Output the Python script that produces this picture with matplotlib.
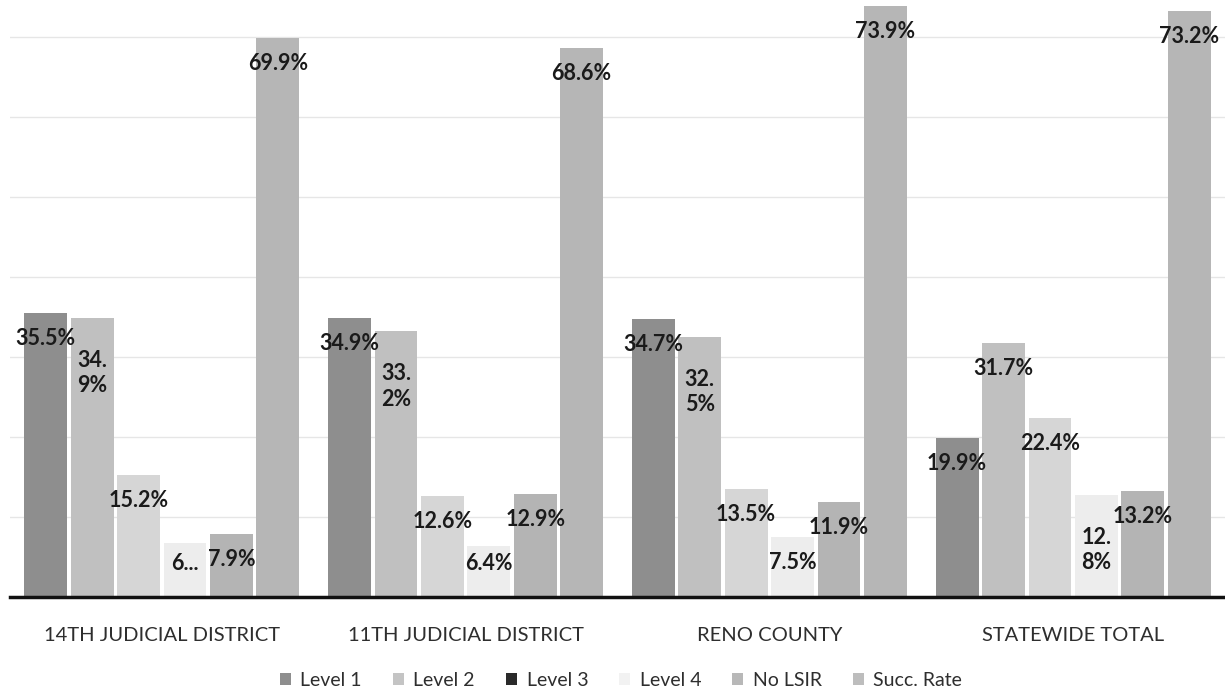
import numpy as np
import matplotlib.pyplot as plt
from matplotlib.patches import Patch

# Categories (x groups)
CATEGORIES = ["14TH JUDICIAL DISTRICT", "11TH JUDICIAL DISTRICT", "RENO COUNTY", "STATEWIDE TOTAL"]

# Series values in percent, one list per series
level1 = [35.5, 34.9, 34.7, 19.9]
level2 = [34.9, 33.2, 32.5, 31.7]
level3 = [15.2, 12.6, 13.5, 22.4]
level4 = [6.7, 6.4, 7.5, 12.8]
no_lsir = [7.9, 12.9, 11.9, 13.2]
succ_rate = [69.9, 68.6, 73.9, 73.2]

SERIES = ["Level 1", "Level 2", "Level 3", "Level 4", "No LSIR", "Succ. Rate"]

# Data labels as printed on the chart (some are wrapped / cut off)
labels = [
    ["35.5%", "34.9%", "34.7%", "19.9%"],
    ["34.\n9%", "33.\n2%", "32.\n5%", "31.7%"],
    ["15.2%", "12.6%", "13.5%", "22.4%"],
    ["6...", "6.4%", "7.5%", "12.\n8%"],
    ["7.9%", "12.9%", "11.9%", "13.2%"],
    ["69.9%", "68.6%", "73.9%", "73.2%"],
]

COLORS = ["#8e8e8e", "#c0c0c0", "#d6d6d6", "#ededed", "#b4b4b4", "#b6b6b6"]
LEGEND_COLORS = ["#8e8e8e", "#c4c4c4", "#2a2a2a", "#f2f2f2", "#b8b8b8", "#bdbdbd"]

plt.rcParams["font.family"] = ["Lato", "DejaVu Sans"]

fig = plt.figure(figsize=(12.25, 6.93), dpi=100)
ax = fig.add_axes([10 / 1225, 96 / 693, 1215 / 1225, 597 / 693])

values = [level1, level2, level3, level4, no_lsir, succ_rate]
x = np.arange(len(CATEGORIES))
pitch = 0.1528
width = 0.141

for i, (vals, color) in enumerate(zip(values, COLORS)):
    pos = x + (i - 2.5) * pitch
    ax.bar(pos, vals, width=width, color=color, zorder=2)
    for px, v, lab in zip(pos, vals, labels[i]):
        if "\n" in lab:
            ax.text(px, v - 4.0, lab, ha="center", va="top", fontsize=15.5,
                    fontweight="bold", color="#1a1a1a", linespacing=1.25, zorder=3)
        else:
            ax.text(px, max(v - 3.2, 4.2), lab, ha="center", va="center", fontsize=15.5,
                    fontweight="bold", color="#1a1a1a", zorder=3)

ax.set_xlim(-0.5, 3.5)
ax.set_ylim(0, 74.6)
ax.set_yticks(np.arange(10, 80, 10))
ax.yaxis.grid(True, color="#e6e6e6", linewidth=1, zorder=0)
ax.tick_params(axis="y", left=False, labelleft=False)
ax.tick_params(axis="x", bottom=False, pad=18)
ax.set_xticks(x)
ax.set_xticklabels(CATEGORIES, fontsize=14.5, color="#2e2e2e")

for side in ["top", "right", "left"]:
    ax.spines[side].set_visible(False)
ax.spines["bottom"].set_linewidth(2.5)
ax.spines["bottom"].set_color("#111111")

handles = [Patch(facecolor=c, edgecolor="none") for c in LEGEND_COLORS]
fig.legend(handles, SERIES, loc="center", bbox_to_anchor=(0.507, 0.018), ncol=6,
           frameon=False, fontsize=14, handlelength=0.55, handleheight=0.55,
           columnspacing=1.6, handletextpad=0.5, labelcolor="#2e2e2e")

fig.savefig("out.png", dpi=100)
